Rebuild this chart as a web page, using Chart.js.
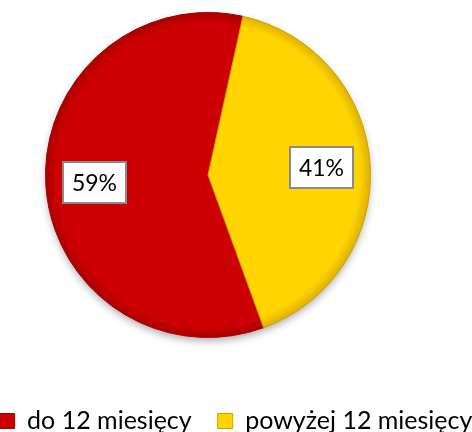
<!DOCTYPE html>
<html><head><meta charset="utf-8">
<script src="https://cdn.jsdelivr.net/npm/chart.js@4"></script>
<style>html,body{margin:0;padding:0;background:#fff}</style>
</head><body>
<canvas id="c" width="472" height="432"></canvas>
<script>
// ---- data ----
const categories = ['do 12 miesięcy', 'powyżej 12 miesięcy'];
const values = [59, 41];
const baseColors = ['#CC0000', '#FFD400'];
const rimColors = ['#A80000', '#DDB000'];
const edgeColors = ['#A30000', '#CFA200'];

const total = values.reduce((a, b) => a + b, 0);
const valueLabels = values.map(v => Math.round(v / total * 100) + '%');

const FONT = 'Lato, "Open Sans", sans-serif';

// place the pie area and the legend row like the reference
const placePlugin = {
  id: 'place',
  beforeLayout(chart) {
    const lg = chart.legend;
    if (lg && !lg._oneRow) {
      const origFit = lg.fit;
      lg.fit = function () {
        const mw = this.maxWidth;
        this.maxWidth = 2000;
        origFit.call(this);
        this.maxWidth = mw;
        this.width = mw;
      };
      lg._oneRow = true;
    }
  },
  afterLayout(chart) {
    const ca = chart.chartArea;
    ca.left = 0; ca.right = 416; ca.top = 12; ca.bottom = 338;
    ca.width = ca.right - ca.left; ca.height = ca.bottom - ca.top;
    const lg = chart.legend;
    const pad = chart.options.plugins.legend.labels.padding;
    const fs = chart.options.plugins.legend.labels.font.size;
    const h = lg.height;
    lg.top = 421 - pad - fs / 2;
    lg.bottom = lg.top + h;
    lg.left = -100; lg.right = chart.width + 100; lg.width = lg.right - lg.left;
  }
};

const shadowPlugin = {
  id: 'pieShadow',
  beforeDatasetsDraw(chart) {
    const arc = chart.getDatasetMeta(0).data[0];
    if (!arc) return;
    const { x, y, outerRadius } = arc.getProps(['x', 'y', 'outerRadius'], true);
    const ctx = chart.ctx;
    ctx.save();
    ctx.shadowColor = 'rgba(0,0,0,0.35)';
    ctx.shadowBlur = 8;
    ctx.shadowOffsetY = 4;
    ctx.fillStyle = '#888';
    ctx.beginPath();
    ctx.arc(x, y, outerRadius - 1, 0, Math.PI * 2);
    ctx.fill();
    ctx.restore();
  }
};

const labelPlugin = {
  id: 'boxLabels',
  afterDatasetsDraw(chart) {
    const meta = chart.getDatasetMeta(0);
    const ctx = chart.ctx;
    ctx.save();
    ctx.font = '23px ' + FONT;
    ctx.textAlign = 'center';
    ctx.textBaseline = 'middle';
    meta.data.forEach((arc, i) => {
      const p = arc.getProps(['x', 'y', 'startAngle', 'endAngle', 'outerRadius'], true);
      const mid = (p.startAngle + p.endAngle) / 2;
      const r = p.outerRadius * 0.7;
      const px = p.x + Math.cos(mid) * r;
      const py = p.y + Math.sin(mid) * r;
      const t = valueLabels[i];
      const w = Math.round(ctx.measureText(t).width + 18);
      const h = 41;
      const bx = Math.round(px - w / 2), by = Math.round(py - h / 2);
      ctx.fillStyle = '#fff';
      ctx.fillRect(bx, by, w, h);
      ctx.strokeStyle = '#8a8a8a';
      ctx.lineWidth = 2;
      ctx.strokeRect(bx, by, w, h);
      ctx.fillStyle = '#000';
      ctx.fillText(t, px, py + 1);
    });
    ctx.restore();
  }
};

new Chart(document.getElementById('c'), {
  type: 'pie',
  data: {
    labels: categories,
    datasets: [{
      data: values,
      backgroundColor: (c) => {
        const i = c.dataIndex || 0;
        const chart = c.chart;
        const ca = chart.chartArea;
        if (!ca || c.type !== 'data') return baseColors[i];
        const cx = (ca.left + ca.right) / 2, cy = (ca.top + ca.bottom) / 2;
        const r = Math.min(ca.width, ca.height) / 2;
        const g = chart.ctx.createRadialGradient(cx, cy - 4, 0, cx, cy, r);
        g.addColorStop(0, baseColors[i]);
        g.addColorStop(0.93, baseColors[i]);
        g.addColorStop(1, rimColors[i]);
        return g;
      },
      borderColor: edgeColors,
      borderWidth: 1,
      clip: false
    }]
  },
  options: {
    responsive: false,
    devicePixelRatio: 1,
    animation: false,
    rotation: 160,
    layout: { padding: 0 },
    plugins: {
      tooltip: { enabled: false },
      legend: {
        position: 'bottom',
        labels: {
          color: '#000',
          font: { family: FONT, size: 25 },
          boxWidth: 15,
          boxHeight: 15,
          padding: 26,
          generateLabels: (chart) => categories.map((name, i) => ({
            text: name,
            fillStyle: baseColors[i],
            strokeStyle: edgeColors[i],
            lineWidth: 1,
            fontColor: '#000',
            hidden: false,
            index: i
          }))
        }
      }
    }
  },
  plugins: [placePlugin, shadowPlugin, labelPlugin]
});
</script>
</body></html>
